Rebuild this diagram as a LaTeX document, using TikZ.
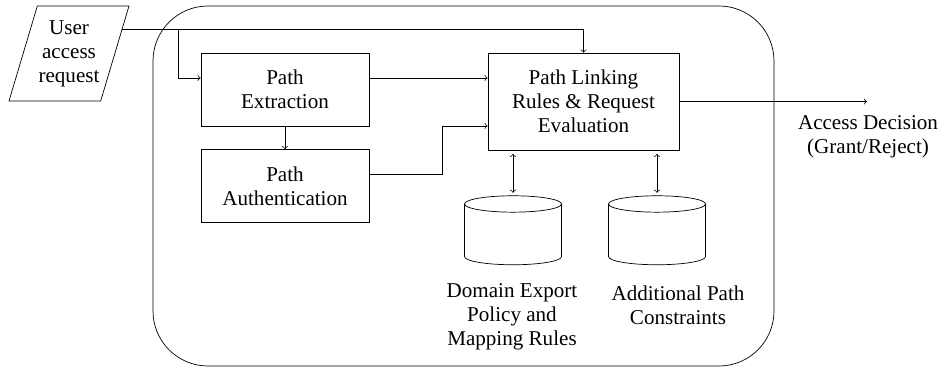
\documentclass[tikz,border=0pt]{standalone}
\usepackage{fontspec}
\setmainfont{Liberation Serif}
\usetikzlibrary{shapes.geometric}

\begin{document}
\begin{tikzpicture}[x=0.02cm, y=-0.02cm,
    every node/.style={font=\fontsize{12}{13.6}\selectfont, align=center},
    procbox/.style={draw, minimum width=3.36cm, minimum height=1.46cm},
    store/.style={draw, cylinder, shape border rotate=90, aspect=1.4, minimum width=1.94cm, minimum height=1.38cm},
    dblink/.style={<->, shorten <=2pt, shorten >=1.5pt}]
    	% canvas
    	\useasboundingbox (0,0) rectangle (947,371);
    	
    	% enclosing system
    	\draw[rounded corners=1.1cm] (153,6) rectangle (774,366);
    	
    	% input request
    	\node[draw, trapezium, trapezium left angle=70, trapezium right angle=110, trapezium stretches body, minimum width=2.4cm, minimum height=1.9cm, inner xsep=0pt] (req) at (69,53.5) {User\\access\\request};
    	
    	% processing blocks
    	\node[procbox] (ext) at (285,89.5) {Path\\Extraction};
    	\node[procbox] (auth) at (285,186) {Path\\Authentication};
    	\node[procbox, minimum width=3.82cm, minimum height=1.94cm] (link) at (583.5,101.5) {Path Linking\\Rules \& Request\\Evaluation};
    	
    	% databases
    	\node[store] (db1) at (513,236.5) {};
    	\node[store] (db2) at (657,236.5) {};
    	\node (db1txt) at (512,317) {Domain Export\\Policy and\\Mapping Rules};
    	\node (db2txt) at (678,305) {Additional Path\\Constraints};
    	
    	% output
    	\coordinate (out) at (867,101.5);
    	\node (dec) at (868,137) {Access Decision\\(Grant/Reject)};
    	
    	% connectors
    	\coordinate (tap) at (178,0);
    	\draw[->] (req.24) -| (link.north);
    	\draw[->] (tap |- req.24) |- ([yshift=0.23cm]ext.west);
    	\draw[->] (ext) -- (auth);
    	\draw[->] ([yshift=0.23cm]ext.east) -- ([yshift=0.23cm]ext.east -| link.west);
    	\draw[->] ([yshift=0.24cm]auth.east) -- ++(73,0) |- ([yshift=-0.49cm]link.west);
    	\draw[->] (link.east) -- (out);
    	\draw[dblink] (link.south -| db1.north) -- (db1.north);
    	\draw[dblink] (link.south -| db2.north) -- (db2.north);
    \end{tikzpicture}
\end{document}
